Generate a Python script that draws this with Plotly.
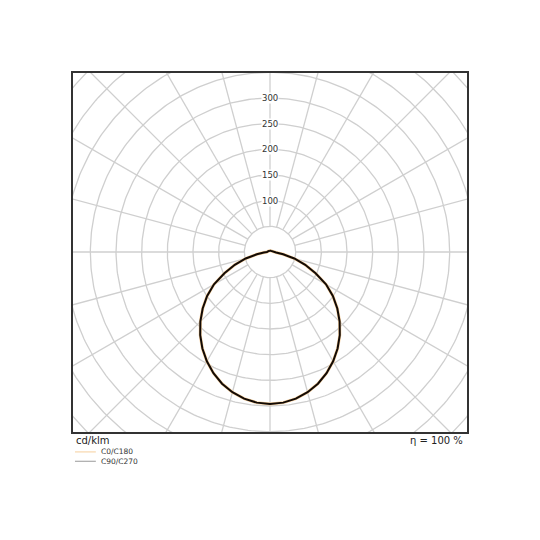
import numpy as np
import plotly.graph_objects as go

# ── data (cd/klm), gamma angle measured from nadir ──
gamma_deg = [0, 5, 10, 15, 20, 25, 30, 35, 40, 45, 50, 55, 60, 65, 70, 75, 80, 85, 90,
             105, 120, 135, 150, 165, 180]
c0_c180 = [296, 294.6, 290.2, 282.9, 273.0, 260.6, 246.0, 229.6, 211.5, 191.9, 171.2,
           149.5, 126.0, 98.0, 73.0, 49.0, 26.0, 12.0, 6.0, 4.0, 3.5, 3.0, 2.8, 2.6, 2.5]
c90_c270 = [296, 294.6, 290.2, 282.9, 273.0, 260.6, 246.0, 229.6, 211.5, 191.9, 171.2,
            149.5, 126.0, 98.0, 73.0, 49.0, 26.0, 12.0, 6.0, 4.0, 3.5, 3.0, 2.8, 2.6, 2.5]

ring_values = [50, 100, 150, 200, 250, 300, 350, 400, 450, 500, 550]
ring_labels = [100, 150, 200, 250, 300]
spoke_deg = list(range(0, 360, 15))
series_names = ["C0/C180", "C90/C270"]
series_colors = ["#f6cf9c", "#999999"]
eta_text = "η = 100 %"
unit_text = "cd/klm"

GRID = "#cfcfcf"


def to_xy(g, vals):
    """Mirror the half-plane curve to both sides and convert to x/y (nadir = down)."""
    g = np.radians(np.asarray(g, dtype=float))
    v = np.asarray(vals, dtype=float)
    g_full = np.concatenate([-g[::-1], g[1:]])
    v_full = np.concatenate([v[::-1], v[1:]])
    return v_full * np.sin(g_full), -v_full * np.cos(g_full)


fig = go.Figure()

# grid rings
t = np.linspace(0, 2 * np.pi, 361)
for r in ring_values:
    fig.add_trace(go.Scatter(x=r * np.cos(t), y=r * np.sin(t), mode="lines",
                             line=dict(color=GRID, width=1.3), hoverinfo="skip",
                             showlegend=False))

# grid spokes (start at inner ring)
for a in spoke_deg:
    ar = np.radians(a)
    fig.add_trace(go.Scatter(x=[50 * np.sin(ar), 700 * np.sin(ar)],
                             y=[50 * np.cos(ar), 700 * np.cos(ar)], mode="lines",
                             line=dict(color=GRID, width=1.3), hoverinfo="skip",
                             showlegend=False))

# light distribution curves
x0, y0 = to_xy(gamma_deg, c0_c180)
fig.add_trace(go.Scatter(x=x0, y=y0, mode="lines", name=series_names[0],
                         line=dict(color=series_colors[0], width=3), showlegend=False))
x1, y1 = to_xy(gamma_deg, c90_c270)
fig.add_trace(go.Scatter(x=x1, y=y1, mode="lines", name=series_names[1],
                         line=dict(color="#120a05", width=2), showlegend=False))

# ring value labels
for v in ring_labels:
    fig.add_annotation(x=0, y=v, text=str(v), showarrow=False, bgcolor="white",
                       borderpad=0, font=dict(size=8.5, color="#333333"))

# footer texts
fig.add_annotation(x=0, y=0, xref="paper", yref="paper", xanchor="left", yanchor="top",
                   xshift=1, yshift=-1, text=unit_text, showarrow=False,
                   font=dict(size=10, color="#222222"))
fig.add_annotation(x=1, y=0, xref="paper", yref="paper", xanchor="right", yanchor="top",
                   xshift=-2, yshift=-1, text=eta_text, showarrow=False,
                   font=dict(size=10, color="#222222"))

# hand-made legend below the plot: two line samples + one two-line label
for i, col in enumerate(series_colors):
    yy = -0.0555 - i * 0.026
    fig.add_shape(type="line", xref="paper", yref="paper", x0=0.005, x1=0.058,
                  y0=yy, y1=yy, line=dict(color=col, width=1))
fig.add_annotation(x=0.068, y=-0.0685, xref="paper", yref="paper", xanchor="left",
                   yanchor="middle", text="<br>".join(series_names), showarrow=False,
                   align="left", borderpad=0, font=dict(size=7.5, color="#333333"))

axis_common = dict(showgrid=False, zeroline=False, showticklabels=False, ticks="",
                   showline=True, mirror=True, linecolor="#333333", linewidth=1.5)
fig.update_xaxes(range=[-383.8, 383.8], **axis_common)
fig.update_yaxes(range=[-350.7, 348.7], **axis_common)

# margins offset by the 8px page margin so the box lands where the reference has it
fig.update_layout(
    width=540, height=540,
    margin=dict(l=65, r=81, t=65, b=116),
    paper_bgcolor="white", plot_bgcolor="white",
    font=dict(family="DejaVu Sans"),
    showlegend=False,
)

fig.write_html("out.html")
